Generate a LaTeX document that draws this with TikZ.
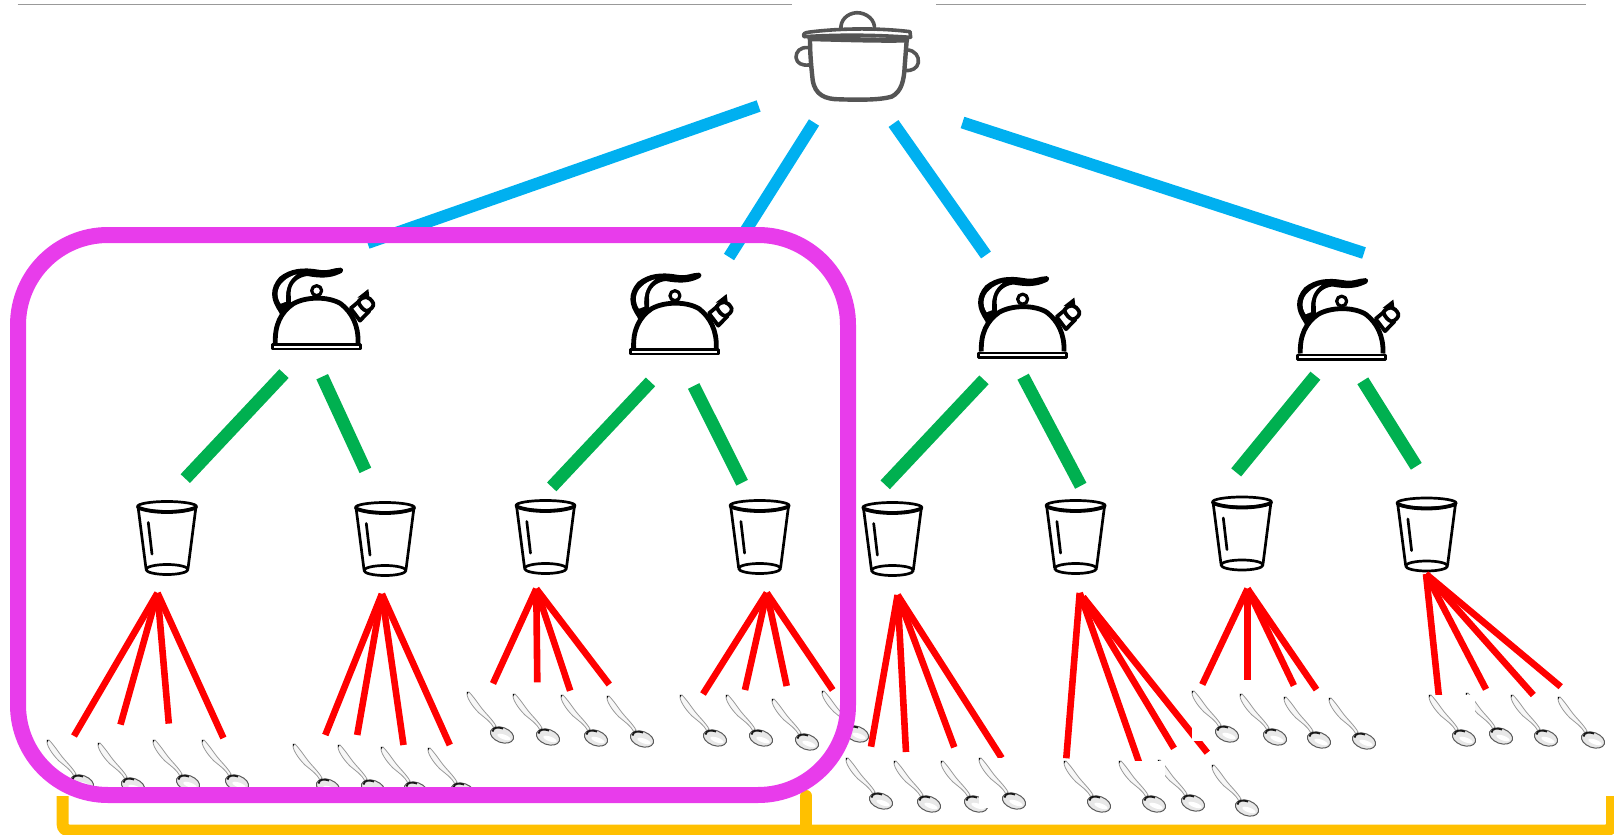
\documentclass[tikz,border=0pt]{standalone}
\definecolor{mblue}{HTML}{00B0F0}
\definecolor{mgreen}{HTML}{00B050}
\definecolor{mred}{HTML}{FF0000}
\definecolor{mmag}{HTML}{E83CEB}
\definecolor{myel}{HTML}{FFC000}
\definecolor{potgrey}{HTML}{555555}
\newcommand\spoonart{%
  \draw[gray!80,line width=.4pt,fill=gray!6,line join=round]
    (0,0) .. controls (-1,5) and (5,14) .. (12,21) .. controls (18,26) and (24,30) .. (27,36)
    -- (29,34) .. controls (26,28) and (18,21) .. (13,14) .. controls (8,7) and (5,3) .. (2,0) -- cycle;
  \fill[black] (0,0) -- (1.5,0) -- (0.6,2.5) -- cycle;
  \draw[black!65,line width=.5pt,fill=gray!18,rotate around={-20:(35,43)}] (35,43) ellipse [x radius=12,y radius=7.5];
  \fill[white,rotate around={-20:(37,45)}] (37,45) ellipse [x radius=7,y radius=2.4];
  \draw[black!90,line width=.9pt] (25.5,39.5) .. controls (26.5,35) and (31,35) .. (36,36.5);
}
\newcommand\kettleart{%
  \begin{scope}[scale=1/3,line join=round]
    \fill[black] (88,172) .. controls (60,135) and (58,100) .. (88,66) .. controls (120,40) and (160,36) .. (205,44)
      .. controls (235,50) and (250,38) .. (272,38) .. controls (284,41) and (280,54) .. (268,57)
      .. controls (240,70) and (210,70) .. (172,63) .. controls (142,66) and (122,88) .. (122,112)
      .. controls (122,130) and (124,140) .. (122,152) -- (100,176) -- cycle;
    \fill[white] (92,146) .. controls (78,125) and (80,98) .. (100,80) .. controls (112,68) and (126,62) .. (140,58)
      .. controls (118,74) and (105,98) .. (108,140) -- cycle;
    \draw[line width=2.4pt,fill=white] (76,264) .. controls (74,210) and (92,172) .. (130,146)
      .. controls (170,124) and (235,124) .. (272,146) .. controls (306,172) and (326,212) .. (324,264);
    \draw[line width=1.2pt,fill=white] (67,268) -- (331,268) -- (331,282) -- (67,282) -- cycle;
    \draw[line width=1.6pt,fill=white] (200,107) circle [radius=15];
    \fill (192,120) rectangle (208,132);
    \draw[line width=1.9pt,fill=white] (302,160) -- (330,197) -- (358,168) -- (338,130) -- cycle;
    \draw[line width=1.9pt,fill=white] (325,140) .. controls (340,120) and (358,122) .. (370,145) .. controls (372,155) and (362,165) .. (350,168) .. controls (340,165) and (330,155) .. (325,140) -- cycle;
    \fill (322,128) -- (355,102) -- (358,125) -- cycle;
    \fill (82,160) -- (108,150) -- (110,165) -- (90,178) -- cycle;
  \end{scope}
}
\tikzset{
  x=0.5pt,y=-0.5pt,
  rule/.style={draw=gray!80,line width=.6pt},
  blueline/.style={draw=mblue,line width=6pt},
  greenline/.style={draw=mgreen,line width=6.4pt},
  redline/.style={draw=mred,line width=3.3pt},
  magframe/.style={draw=mmag,line width=8pt,rounded corners=45pt},
  bracket/.style={draw=myel,line width=6pt},
  potline/.style={draw=potgrey,line width=1.8pt,line join=round,line cap=round},
  spoon/.pic={\spoonart},
  spoonw/.pic={\fill[white] (0,0) rectangle (46,50);\spoonart},
  kettle/.pic={\kettleart},
  glass/.pic={
    \begin{scope}[line width=1.35pt,line join=round,line cap=round]
      \draw (-29,0) -- (-21,62) (29,0) -- (21,62);
      \draw (0,0) ellipse [x radius=29.5,y radius=5];
      \draw[line width=1.9pt] (-29,1) .. controls (-15,7) and (15,7) .. (29,1);
      \draw (0,63) ellipse [x radius=21,y radius=5];
      \draw (-18.7,16) -- (-15,47.6);
    \end{scope}
  },
  pot/.pic={
    \begin{scope}[scale=1/3]
      \draw[potline] (243,88) .. controls (240,60) and (262,40) .. (290,38) .. controls (320,38) and (347,60) .. (343,88);
      \draw[potline] (132,110) .. controls (128,100) and (135,98) .. (150,96) .. controls (240,85) and (350,83) .. (450,95) -- (452,112);
      \draw[potline] (132,110) .. controls (250,103) and (350,105) .. (452,112);
      \draw[potline,line width=2.6pt] (150,116) .. controls (250,118) and (350,122) .. (440,120);
      \draw[potline,line width=2.2pt] (150,116) .. controls (150,170) and (155,210) .. (158,240) .. controls (165,285) and (195,298) .. (240,298)
        .. controls (300,300) and (360,300) .. (395,290) .. controls (425,275) and (432,240) .. (434,200) -- (440,122);
      \draw[potline] (146,143) .. controls (120,140) and (108,155) .. (108,172) .. controls (110,190) and (125,197) .. (147,195);
      \draw[potline] (441,150) .. controls (465,150) and (478,170) .. (475,188) .. controls (472,205) and (455,213) .. (436,212);
    \end{scope}
  }
}
\begin{document}
\begin{tikzpicture}
\path[use as bounding box,clip] (0,0) rectangle (1614,835);

% top rules
\coordinate (r1a) at (17.5,4.5); \coordinate (r1b) at (792,4.5);
\coordinate (r2a) at (936,4.5);  \coordinate (r2b) at (1586,4.5);
\draw[rule] (r1a) -- (r1b);
\draw[rule] (r2a) -- (r2b);

\pic (potA) at (760,0) {pot};

% kettles and glasses
\pic (k1) at (250,255) {kettle};
\pic (k2) at (608.3,260) {kettle};
\pic (k3) at (956,263.5) {kettle};
\pic (k4) at (1275,265.5) {kettle};

\pic (g1) at (167,506.5) {glass};
\pic (g2) at (385,507.5) {glass};
\pic (g3) at (545.5,505.5) {glass};
\pic (g4) at (759.6,505.5) {glass};
\pic (g5) at (892.4,507.5) {glass};
\pic (g6) at (1075.6,505.5) {glass};
\pic (g7) at (1242,502) {glass};
\pic (g8) at (1426.6,503) {glass};

% blue connectors
\coordinate (b1s) at (758.6,106);  \coordinate (b1e) at (367.5,243);
\coordinate (b2s) at (814,122.5);  \coordinate (b2e) at (729,257);
\coordinate (b3s) at (893.5,123.5);\coordinate (b3e) at (986,255);
\coordinate (b4s) at (962.5,122.5);\coordinate (b4e) at (1364,253);
\draw[blueline] (b1s) -- (b1e);
\draw[blueline] (b2s) -- (b2e);
\draw[blueline] (b3s) -- (b3e);
\draw[blueline] (b4s) -- (b4e);

% green connectors
\coordinate (g11s) at (284,373.6);    \coordinate (g11e) at (185.3,478.6);
\coordinate (g12s) at (322.2,376.7);  \coordinate (g12e) at (365.4,470.4);
\coordinate (g21s) at (650.5,381.9);  \coordinate (g21e) at (551.7,486.9);
\coordinate (g22s) at (693.7,386);    \coordinate (g22e) at (742.1,482.7);
\coordinate (g31s) at (984,379.8);    \coordinate (g31e) at (885.2,484.8);
\coordinate (g32s) at (1023.1,376.7); \coordinate (g32e) at (1080.8,485.8);
\coordinate (g41s) at (1315.4,375.7); \coordinate (g41e) at (1236.2,472.4);
\coordinate (g42s) at (1362.8,380.8); \coordinate (g42e) at (1416.3,466.3);
\foreach \a in {g11,g12,g21,g22,g31,g32,g41,g42}
  \draw[greenline] (\a s) -- (\a e);

% red connectors
\foreach \n/\ax/\ay/\xa/\ya/\xb/\yb/\xc/\yc/\xd/\yd in {
  1/157.5/593/74/736/120.5/724.6/168.8/723.6/223.4/738,
  2/381.9/594/325.3/735/357.2/735/403.5/745/449.8/745,
  3/536.3/588.8/493/683.5/537.3/682.4/570.2/690.7/609.3/684.5,
  4/766.8/592.9/703/694/745/690/786.7/686/832.7/690,
  5/897.6/595/871/746.7/906/752/954.3/747.3/1001.7/758,
  7/1247.5/588.8/1202.3/684.5/1247.5/680.4/1293.9/685.5/1316.5/689.6,
  8/1426/574/1439.5/702/1486/689.3/1533.3/695/1560.7/686.7}{
  \coordinate (a\n) at (\ax,\ay);
  \coordinate (e\n a) at (\xa,\ya);
  \coordinate (e\n b) at (\xb,\yb);
  \coordinate (e\n c) at (\xc,\yc);
  \coordinate (e\n d) at (\xd,\yd);
  \draw[redline] (a\n) -- (e\n a);
  \draw[redline] (a\n) -- (e\n b);
  \draw[redline] (a\n) -- (e\n c);
  \draw[redline] (a\n) -- (e\n d);
}
\coordinate (a6) at (1079.7,592.9);
\coordinate (a6x) at (1083,597);
\coordinate (e6a) at (1066.3,758.3);
\coordinate (e6b) at (1141,768);
\coordinate (e6c) at (1174,748.3);
\coordinate (e6d) at (1207.3,752.7);
\draw[redline] (a6) -- (e6a);
\draw[redline] (a6) -- (e6b);
\draw[redline] (a6x) -- (e6c);
\draw[redline] (a6x) -- (e6d);

% spoons (some with an opaque white ground)
\foreach \n/\x/\y in {a/47/740,b/98/743,c/153/740,d/202/740,
  e/293/744,f/338/745,g/381/747,h/428/748,
  i/467/692,j/513/694,k/561/695,l/607/696,
  m/680/695,n/726/695,o/772/699,p/822/691,
  q/846/758,r/894/761,s/941/761}
  \pic (s\n) at (\x,\y) {spoon};
\pic (st) at (979,758) {spoonw};
\pic (su) at (1064,761) {spoon};
\pic (sw) at (1158,760) {spoon};
\pic (sv) at (1119,761) {spoonw};
\pic (sx) at (1212,765) {spoon};
\pic (s7a) at (1192,691) {spoonw};
\pic (s7b) at (1240,694) {spoon};
\pic (s7c) at (1284,697) {spoon};
\pic (s7d) at (1329,698) {spoon};
\pic (s8b) at (1466,693) {spoon};
\pic (s8a) at (1429,695) {spoonw};
\pic (s8c) at (1511,695) {spoon};
\pic (s8d) at (1558,697) {spoon};

% yellow bracket
\coordinate (ya) at (62.7,796);
\coordinate (yb) at (62.7,830.5);
\coordinate (yc) at (1612,830.5);
\coordinate (yd) at (1612,796);
\coordinate (ym) at (806.3,796);
\coordinate (yn) at (806.3,830.5);
\draw[bracket,rounded corners=3pt] (ya) -- (yb) -- (yc) -- (yd);
\draw[bracket,line cap=round] (ym) -- (yn);

% magenta frame
\coordinate (fa) at (18,235);
\coordinate (fb) at (848,795);
\draw[magframe] (fa) rectangle (fb);
\end{tikzpicture}
\end{document}
